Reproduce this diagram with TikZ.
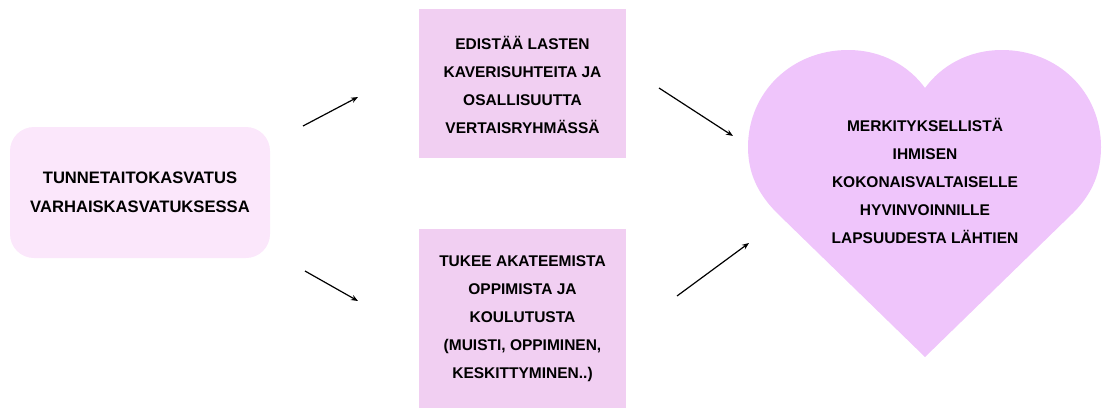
\documentclass[tikz,border=0pt]{standalone}
\usepackage{fontspec}
\setmainfont{Liberation Sans}
\usetikzlibrary{arrows.meta}
\definecolor{softpink}{HTML}{FBE7FB}
\definecolor{boxpink}{HTML}{F1CFF2}
\definecolor{heartlilac}{HTML}{EFC5FB}
\tikzset{
  label text/.style={align=center, text=black, font=\bfseries\fontsize{15.5}{28}\selectfont},
  start box/.style={fill=softpink, rounded corners=24pt, minimum width=260pt, minimum height=131pt, inner sep=0pt},
  effect box/.style={fill=boxpink, minimum width=207pt, inner sep=0pt},
  link/.style={line width=1.2pt, -{Stealth[length=7pt,width=5.5pt]}}
}
\begin{document}
\begin{tikzpicture}[x=1pt,y=-1pt]
\useasboundingbox (0,0) rectangle (1102,410);

% starting point
\node[start box] (start) at (140,192.5) {};
\node[label text, font=\bfseries\fontsize{16.6}{29}\selectfont] (starttext) at (140,192.5)
  {TUNNETAITOKASVATUS\\VARHAISKASVATUKSESSA};

% two effects
\node[effect box, minimum height=149pt] (social) at (522.5,83.5) {};
\node[label text] (socialtext) at (522.5,84.5)
  {EDISTÄÄ LASTEN\\KAVERISUHTEITA JA\\OSALLISUUTTA\\VERTAISRYHMÄSSÄ};

\node[effect box, minimum height=179pt] (learning) at (522.5,318.5) {};
\node[label text] (learningtext) at (522.5,318.5)
  {TUKEE AKATEEMISTA\\OPPIMISTA JA\\KOULUTUSTA\\(MUISTI, OPPIMINEN,\\KESKITTYMINEN..)};

% heart
\fill[heartlilac] (925,357) -- (777,213)
  .. controls (757,193) and (748,172) .. (748,147)
  .. controls (748,92) and (792,50) .. (848,50)
  .. controls (882,50) and (909,66) .. (925,88)
  .. controls (941,66) and (968,50) .. (1002,50)
  .. controls (1058,50) and (1101,92) .. (1101,147)
  .. controls (1101,172) and (1093,193) .. (1073,213) -- cycle;
\node[label text] (heart) at (925,181)
  {MERKITYKSELLISTÄ\\IHMISEN\\KOKONAISVALTAISELLE\\HYVINVOINNILLE\\LAPSUUDESTA LÄHTIEN};

% arrow ends
\coordinate (a1s) at (303,126);
\coordinate (a1e) at (358,97);
\coordinate (a2s) at (305,271);
\coordinate (a2e) at (358,301);
\coordinate (a3s) at (659,88);
\coordinate (a3e) at (733,136);
\coordinate (a4s) at (677,296);
\coordinate (a4e) at (749,243);

\draw[link] (a1s) -- (a1e);
\draw[link] (a2s) -- (a2e);
\draw[link] (a3s) -- (a3e);
\draw[link] (a4s) -- (a4e);
\end{tikzpicture}
\end{document}
